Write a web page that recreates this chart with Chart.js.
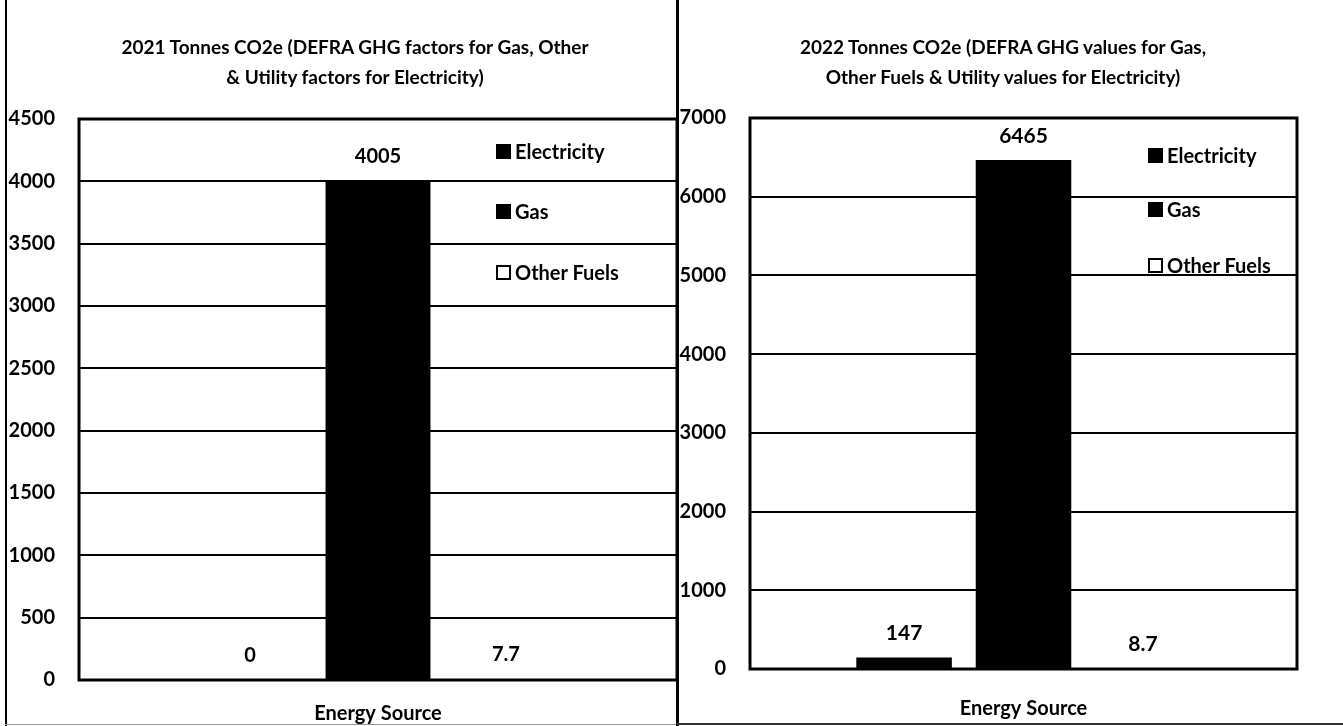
<!DOCTYPE html>
<html>
<head>
<meta charset="utf-8">
<script src="https://cdn.jsdelivr.net/npm/chart.js@4.4.1/dist/chart.umd.min.js"></script>
<style>
  html, body { margin: 0; padding: 0; background: #fff; }
  body { width: 1343px; height: 726px; position: relative; overflow: hidden; font-family: Lato, "Open Sans", sans-serif; color: #000; }
  .panel { position: absolute; top: 0; height: 726px; }
  #panel2021 { left: 0; width: 677px; }
  #panel2022 { left: 677px; width: 666px; }
  .panel canvas { position: absolute; left: 0; top: 0; }
  .title { position: absolute; top: 32px; font-weight: 700; font-size: 19px; line-height: 30px;
           text-align: center; white-space: nowrap; transform: translateX(-50%); }
  .legend-item { position: absolute; height: 24px; display: flex; align-items: center;
                 font-weight: 700; font-size: 20px; white-space: nowrap; }
  .legend-item .box { width: 15px; height: 15px; box-sizing: border-box; border: 2px solid #000; margin-right: 4px; }
  .rule { position: absolute; background: #000; }
</style>
</head>
<body>
<div class="panel" id="panel2021"><canvas id="chart2021" width="677" height="726"></canvas></div>
<div class="panel" id="panel2022"><canvas id="chart2022" width="666" height="726"></canvas></div>

<!-- page frame lines -->
<div class="rule" style="left:5px;top:0;width:2px;height:726px;"></div>
<div class="rule" style="left:5px;top:724px;width:672px;height:1px;background:#999;"></div>
<div class="rule" style="left:676px;top:0;width:3px;height:726px;"></div>
<div class="rule" style="left:677px;top:723px;width:666px;height:2px;background:#333;"></div>

<script>
// ---- data ----
const categories = ['Energy Source'];
const seriesNames = ['Electricity', 'Gas', 'Other Fuels'];
const tonnes2021 = [0, 4005, 7.7];
const tonnes2022 = [147, 6465, 8.7];
const yTicks2021 = [0, 500, 1000, 1500, 2000, 2500, 3000, 3500, 4000, 4500];
const yTicks2022 = [0, 1000, 2000, 3000, 4000, 5000, 6000, 7000];
const title2021 = ['2021 Tonnes CO2e (DEFRA GHG factors for Gas, Other', '& Utility factors for Electricity)'];
const title2022 = ['2022 Tonnes CO2e (DEFRA GHG values for Gas,', 'Other Fuels & Utility values for Electricity)'];

// ---- styling ----
const seriesFill = ['#000000', '#000000', '#ffffff'];
const FONT = 'Lato, "Open Sans", sans-serif';

// black frame round the plotting area
const plotFrame = {
  id: 'plotFrame',
  afterDatasetsDraw(chart) {
    const { ctx, chartArea: a } = chart;
    ctx.save();
    ctx.strokeStyle = '#000';
    ctx.lineWidth = 3;
    ctx.strokeRect(a.left, a.top, a.right - a.left, a.bottom - a.top);
    ctx.restore();
  }
};

// value written above each bar
const valueLabels = {
  id: 'valueLabels',
  afterDatasetsDraw(chart, args, opts) {
    const ctx = chart.ctx;
    ctx.save();
    ctx.font = opts.font;
    ctx.fillStyle = '#000';
    ctx.textAlign = 'center';
    ctx.textBaseline = 'middle';
    chart.data.datasets.forEach((ds, i) => {
      chart.getDatasetMeta(i).data.forEach((bar, j) => {
        ctx.fillText(String(ds.data[j]), bar.x, bar.y - opts.offset);
      });
    });
    ctx.restore();
  }
};

function buildChart(canvasId, values, yTicks, cfg) {
  const yMax = yTicks[yTicks.length - 1];
  return new Chart(document.getElementById(canvasId), {
    type: 'bar',
    data: {
      labels: categories,
      datasets: seriesNames.map((name, i) => ({
        label: name,
        data: [values[i]],
        backgroundColor: seriesFill[i],
        borderColor: '#000',
        borderWidth: i === 2 ? 1 : 0,
        categoryPercentage: cfg.categoryPercentage,
        barPercentage: cfg.barPercentage
      }))
    },
    options: {
      responsive: false,
      animation: false,
      devicePixelRatio: 1,
      layout: { padding: cfg.padding },
      plugins: {
        legend: { display: false },
        title: { display: false },
        tooltip: { enabled: false },
        valueLabels: { font: cfg.labelFont, offset: cfg.labelOffset }
      },
      scales: {
        x: {
          grid: { display: false },
          border: { display: false },
          ticks: { color: '#000', padding: cfg.xPad, font: { family: FONT, size: 20, weight: '700' } },
          afterFit: s => { s.height = cfg.xHeight; }
        },
        y: {
          min: 0,
          max: yMax,
          afterBuildTicks: s => { s.ticks = yTicks.map(v => ({ value: v })); },
          grid: { color: '#000', lineWidth: 2, drawTicks: false },
          border: { display: false },
          ticks: {
            color: '#000', padding: cfg.yPad, font: { family: FONT, size: 20, weight: '700' },
            callback: v => String(v)
          },
          afterFit: s => { s.width = cfg.yWidth; }
        }
      }
    },
    plugins: [plotFrame, valueLabels]
  });
}

function addText(panelId, lines, cx) {
  const t = document.createElement('div');
  t.className = 'title';
  t.style.left = cx + 'px';
  lines.forEach((line, i) => {
    if (i) t.appendChild(document.createElement('br'));
    t.appendChild(document.createTextNode(line));
  });
  document.getElementById(panelId).appendChild(t);
}

function addLegend(panelId, x, centers) {
  const panel = document.getElementById(panelId);
  seriesNames.forEach((name, i) => {
    const item = document.createElement('div');
    item.className = 'legend-item';
    item.style.left = x + 'px';
    item.style.top = (centers[i] - 12) + 'px';
    const box = document.createElement('span');
    box.className = 'box';
    box.style.background = seriesFill[i];
    item.appendChild(box);
    item.appendChild(document.createTextNode(name));
    panel.appendChild(item);
  });
}

function draw() {
  buildChart('chart2021', tonnes2021, yTicks2021, {
    padding: { top: 119, left: 0, right: 0, bottom: 0 },
    yWidth: 79, yPad: 24, xHeight: 46, xPad: 14,
    categoryPercentage: 0.642, barPercentage: 0.82,
    labelFont: '700 20px ' + FONT, labelOffset: 24
  });
  buildChart('chart2022', tonnes2022, yTicks2022, {
    padding: { top: 118, left: 0, right: 46, bottom: 0 },
    yWidth: 73, yPad: 24, xHeight: 57, xPad: 20,
    categoryPercentage: 0.655, barPercentage: 0.8,
    labelFont: '700 21px ' + FONT, labelOffset: 24
  });
  addText('panel2021', title2021, 355);
  addText('panel2022', title2022, 1003 - 677);
  addLegend('panel2021', 496, [151, 211, 272]);
  addLegend('panel2022', 1148 - 677, [155, 209, 265]);
}

if (document.fonts && document.fonts.load) {
  document.fonts.load('700 20px Lato').then(draw, draw);
} else {
  draw();
}
</script>
</body>
</html>
